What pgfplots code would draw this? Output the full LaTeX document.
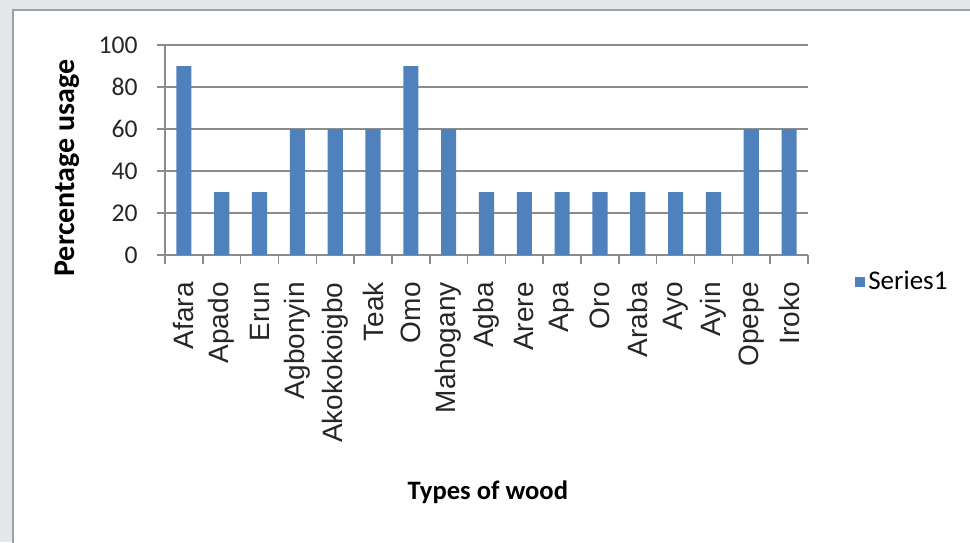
\documentclass[border=0pt]{standalone}
\usepackage{pgfplots}
\pgfplotsset{compat=1.18}
\usepackage{fontspec}
\setmainfont{Carlito}
\newfontfamily\catfont{Liberation Sans}
\definecolor{barblue}{HTML}{4F81BD}
\definecolor{gridgray}{HTML}{8C8C8C}
\definecolor{outergray}{HTML}{E3E7EA}
\definecolor{framegray}{HTML}{A0A0A0}
\begin{document}
\begin{tikzpicture}
\useasboundingbox (0pt,0pt) rectangle (485pt,271pt);
\fill[outergray] (0pt,0pt) rectangle (485pt,271pt);
\fill[white] (6.5pt,-5pt) rectangle (490pt,266pt);
\draw[framegray, line width=1pt] (6.5pt,-5pt) -- (6.5pt,266pt) -- (490pt,266pt);
\begin{axis}[
  at={(82.5pt,143.5pt)}, anchor=south west,
  scale only axis, width=321.5pt, height=105pt,
  xmin=-0.5, xmax=16.5, ymin=0, ymax=100,
  axis lines*=left,
  axis line style={gridgray, line width=0.75pt},
  tick align=outside,
  tick style={gridgray, line width=0.75pt},
  major tick length=4pt,
  minor tick length=4.5pt,
  ytick={0,20,40,60,80,100},
  ymajorgrids,
  grid style={gridgray, line width=0.75pt},
  xtick={0,...,16},
  major x tick style={draw=none},
  minor xtick={-0.5,0.5,...,16.5},
  xticklabels={Afara,Apado,Erun,Agbonyin,Akokokoigbo,Teak,Omo,Mahogany,Agba,Arere,Apa,Oro,Araba,Ayo,Ayin,Opepe,Iroko},
  xticklabel style={rotate=90, anchor=east, inner sep=0pt, font=\catfont\fontsize{14}{16}\selectfont, text=black!85},
  xticklabel shift=9.5pt,
  yticklabel style={anchor=east, inner sep=0pt, font=\fontsize{12.8}{15}\selectfont, text=black!85},
  yticklabel shift=9.5pt,
  /pgf/number format/assume math mode=true,
  every axis y label/.style={at={(rel axis cs:-0.152,0.414)}, rotate=90, anchor=center, font=\bfseries\fontsize{15}{17}\selectfont},
  every axis x label/.style={at={(rel axis cs:0.502,-1.129)}, anchor=center, font=\bfseries\fontsize{13.3}{16}\selectfont},
  ylabel={Percentage usage},
  xlabel={Types of wood},
  legend style={at={(rel axis cs:1.073,-0.129)}, anchor=west, draw=none, fill=none, inner sep=0pt, font=\fontsize{13.5}{16}\selectfont, nodes={inner sep=1.5pt}},
  legend image code/.code={\fill[barblue] (-2pt,-2.5pt) rectangle (3pt,2.5pt);},
]
\addplot[ybar, bar width=0.4, fill=barblue, draw=none] coordinates {
(0,90) (1,30) (2,30) (3,60) (4,60) (5,60) (6,90) (7,60) (8,30)
(9,30) (10,30) (11,30) (12,30) (13,30) (14,30) (15,60) (16,60)};
\addlegendentry{Series1}
\end{axis}
\end{tikzpicture}
\end{document}
